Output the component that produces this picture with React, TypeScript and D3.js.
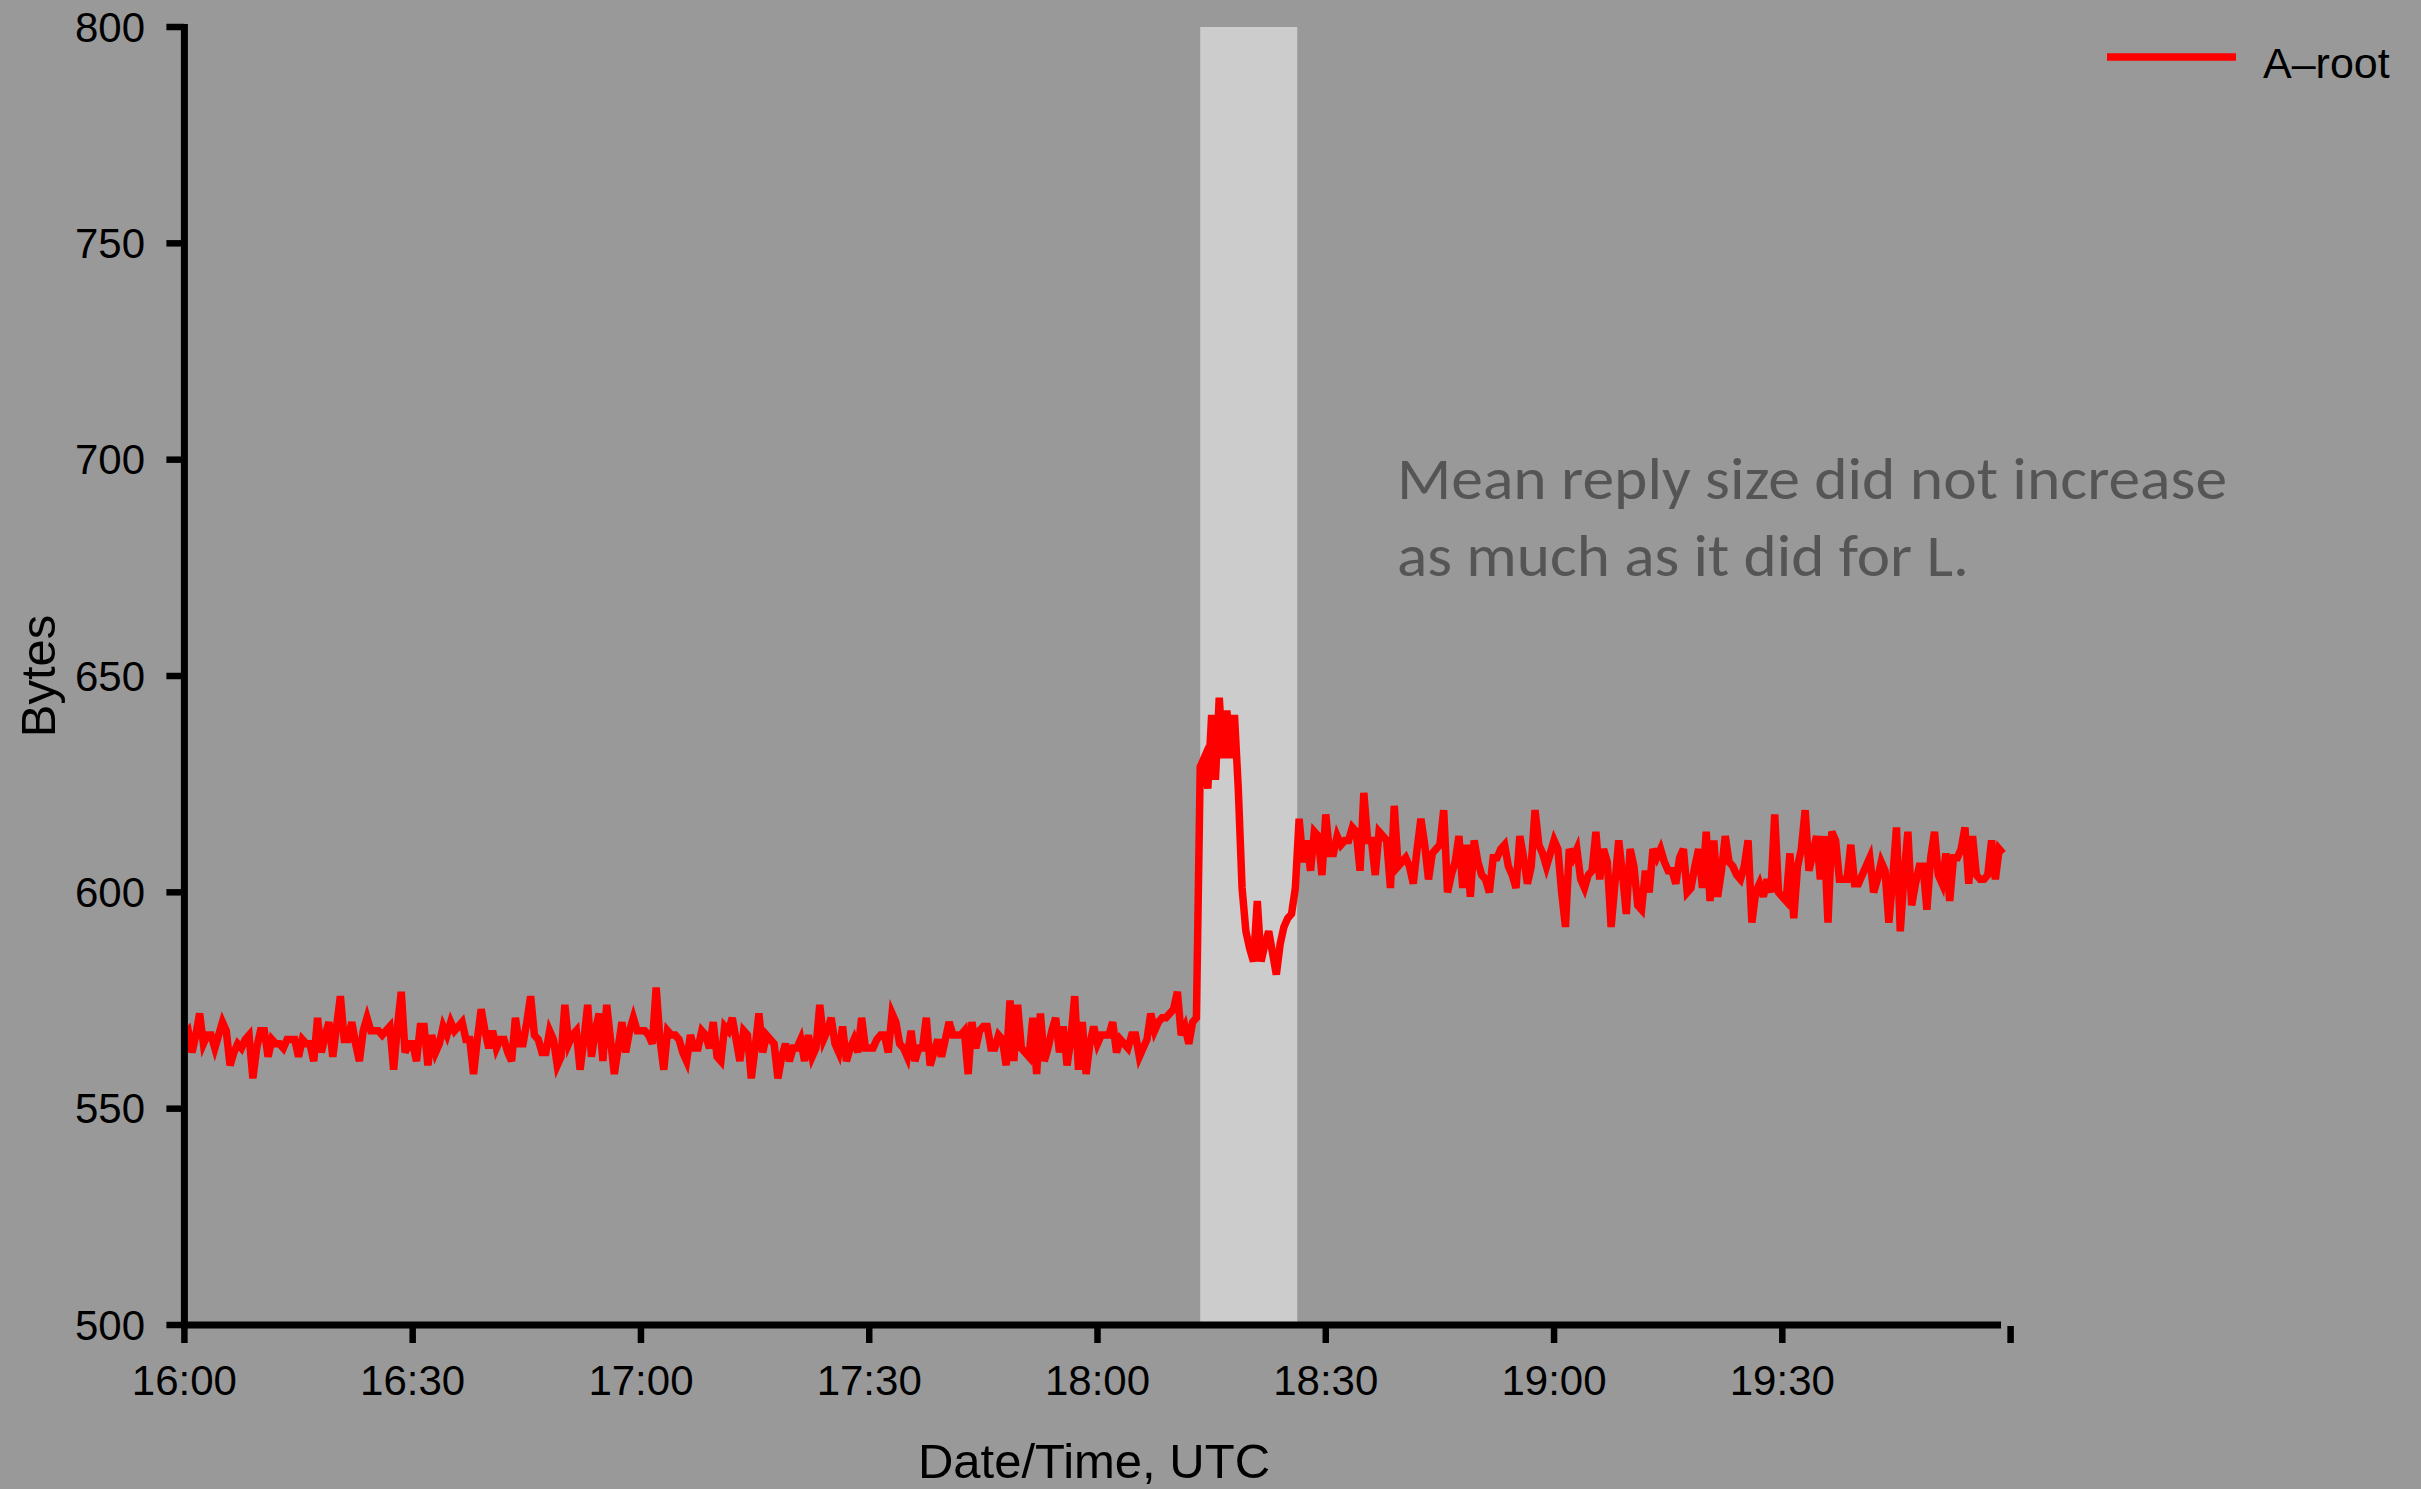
import React from 'react';
import * as d3 from 'd3';

const WIDTH = 2421;
const HEIGHT = 1489;

// Mean DNS reply size (bytes), one sample every 30 seconds starting 16:00 UTC
const seriesName = 'A\u2013root';
const sampleStart = '16:00:00';
const sampleStepSeconds = 30;

const bytes1600 = [
  567, 568, 563, 567, 572, 565, 567, 567, 564, 567,
  570, 568, 560, 563, 565, 564, 566, 567, 557, 564,
  568, 568, 562, 566, 565, 565, 564, 566, 566, 566,
  562, 566, 565, 565, 561, 571, 563, 567, 570, 562,
  569, 576, 566, 566, 570, 565, 561, 568, 571, 568,
  568, 568, 567, 568, 569, 559, 569, 577, 563, 565,
];
const bytes1630 = [
  565, 561, 569, 569, 560, 567, 563, 565, 569, 567,
  570, 568, 569, 570, 566, 566, 558, 566, 573, 568,
  564, 568, 564, 566, 566, 563, 561, 571, 565, 565,
  570, 576, 567, 566, 563, 563, 568, 566, 560, 562,
  574, 565, 567, 568, 559, 566, 574, 562, 568, 572,
  561, 574, 566, 558, 564, 570, 563, 568, 571, 568,
];
const bytes1700 = [
  568, 568, 567, 565, 578, 566, 559, 568, 567, 567,
  566, 563, 561, 567, 564, 564, 568, 567, 564, 570,
  562, 561, 569, 568, 571, 566, 561, 568, 567, 557,
  564, 572, 563, 567, 566, 565, 557, 562, 565, 561,
  564, 564, 566, 561, 567, 562, 564, 574, 566, 568,
  571, 565, 563, 569, 561, 564, 566, 563, 571, 564,
];
const bytes1730 = [
  564, 564, 566, 567, 567, 563, 572, 570, 565, 564,
  562, 568, 561, 564, 564, 571, 560, 563, 566, 562,
  566, 570, 567, 567, 567, 568, 558, 570, 564, 568,
  569, 569, 564, 564, 567, 566, 560, 575, 561, 574,
  564, 563, 562, 571, 558, 572, 561, 564, 568, 571,
  563, 569, 560, 566, 576, 559, 570, 558, 565, 569,
];
const bytes1800 = [
  565, 567, 567, 567, 570, 563, 566, 565, 564, 567,
  567, 562, 564, 566, 572, 568, 570, 571, 571, 572,
  573, 577, 567, 569, 565, 570, 571, 629, 631, 624,
  641, 626, 645, 631, 642, 631, 641, 624, 601, 591,
  587, 584, 598, 584, 588, 591, 586, 581, 588, 592,
  594, 595, 601, 617, 607, 612, 605, 614, 613, 604,
];
const bytes1830 = [
  618, 609, 609, 613, 611, 612, 612, 615, 614, 605,
  623, 612, 612, 604, 614, 613, 612, 601, 620, 606,
  607, 608, 606, 602, 610, 617, 611, 603, 609, 610,
  611, 619, 600, 604, 607, 613, 601, 611, 599, 612,
  607, 604, 603, 600, 608, 608, 610, 611, 606, 604,
  601, 613, 608, 602, 606, 619, 611, 609, 606, 609,
];
const bytes1900 = [
  612, 610, 600, 592, 610, 608, 610, 603, 601, 604,
  605, 614, 603, 610, 607, 592, 602, 612, 604, 595,
  610, 606, 597, 596, 605, 600, 610, 608, 610, 607,
  605, 605, 602, 608, 610, 600, 601, 606, 610, 601,
  614, 598, 612, 599, 605, 613, 607, 606, 604, 603,
  606, 612, 593, 600, 602, 599, 603, 600, 618, 600,
];
const bytes1930 = [
  599, 598, 609, 594, 606, 610, 619, 605, 609, 613,
  603, 613, 593, 614, 612, 603, 603, 603, 611, 602,
  602, 604, 606, 608, 600, 603, 607, 605, 593, 603,
  615, 591, 604, 614, 597, 602, 606, 606, 596, 608,
  614, 604, 602, 609, 598, 608, 608, 610, 615, 602,
  613, 604, 603, 603, 604, 612, 603, 610, 609,
];

const meanReplyBytes = [
  ...bytes1600, ...bytes1630, ...bytes1700, ...bytes1730,
  ...bytes1800, ...bytes1830, ...bytes1900, ...bytes1930,
];

const yTicks = [500, 550, 600, 650, 700, 750, 800];
const xTicks = ['16:00', '16:30', '17:00', '17:30', '18:00', '18:30', '19:00', '19:30', '20:00'];
const xTickLabels = ['16:00', '16:30', '17:00', '17:30', '18:00', '18:30', '19:00', '19:30', ''];
const xDomain = ['16:00', '20:00'];
const eventWindow = ['18:13:30', '18:26:15'];

const noteLines = ['Mean reply size did not increase', 'as much as it did for L.'];
const xTitle = 'Date/Time, UTC';
const yTitle = 'Bytes';

const parseClock = (s: string) => {
  const [h, m, sec] = s.split(':').map(Number);
  return new Date(Date.UTC(2000, 0, 1, h, m, sec || 0));
};

const t0 = parseClock(sampleStart).getTime();
const samples = meanReplyBytes.map((v, i) => ({
  time: new Date(t0 + i * sampleStepSeconds * 1000),
  value: v,
}));

const PLOT = { left: 184.4, right: 2010.6, top: 27, bottom: 1325 };
const AXIS_FONT = "'Liberation Sans', Arial, Helvetica, sans-serif";

export default function App() {
  const x = d3
    .scaleUtc()
    .domain(xDomain.map(parseClock))
    .range([PLOT.left, PLOT.right]);
  const y = d3.scaleLinear().domain([500, 800]).range([PLOT.bottom, PLOT.top]);

  const line = d3
    .line<{ time: Date; value: number }>()
    .x((d) => x(d.time))
    .y((d) => y(d.value));

  const bandX0 = x(parseClock(eventWindow[0]));
  const bandX1 = x(parseClock(eventWindow[1]));

  return (
    <svg
      width={WIDTH}
      height={HEIGHT}
      style={{ position: 'absolute', left: 0, top: 0, display: 'block' }}
    >
      <rect x={0} y={0} width={WIDTH} height={HEIGHT} fill="#999999" />

      {/* event window */}
      <rect
        x={bandX0}
        y={y(800)}
        width={bandX1 - bandX0}
        height={y(500) - y(800)}
        fill="#cccccc"
      />

      {/* series */}
      <path
        d={line(samples) || ''}
        fill="none"
        stroke="#ff0000"
        strokeWidth={7.5}
        strokeLinejoin="miter"
        strokeMiterlimit={4}
      />

      {/* y axis */}
      <g fontFamily={AXIS_FONT} fontSize={42} fill="#000">
        <line x1={PLOT.left} x2={PLOT.left} y1={y(800) - 3} y2={y(500) + 3.5} stroke="#000" strokeWidth={7} />
        {yTicks.map((t) => (
          <g key={t}>
            <line x1={PLOT.left - 18} x2={PLOT.left} y1={y(t)} y2={y(t)} stroke="#000" strokeWidth={6.5} />
            <text x={145} y={y(t)} textAnchor="end" dominantBaseline="central">
              {t}
            </text>
          </g>
        ))}
      </g>

      {/* x axis */}
      <g fontFamily={AXIS_FONT} fontSize={42} fill="#000">
        <line x1={PLOT.left - 3} x2={2001} y1={y(500)} y2={y(500)} stroke="#000" strokeWidth={7} />
        {xTicks.map((t, i) => {
          const tx = x(parseClock(t));
          return (
            <g key={t}>
              <line x1={tx} x2={tx} y1={y(500) + 1} y2={y(500) + 18} stroke="#000" strokeWidth={6.5} />
              {xTickLabels[i] && (
                <text x={tx} y={1395} textAnchor="middle">
                  {xTickLabels[i]}
                </text>
              )}
            </g>
          );
        })}
      </g>

      {/* axis titles */}
      <text
        x={1094}
        y={1478}
        textAnchor="middle"
        fontFamily={AXIS_FONT}
        fontSize={49}
        fill="#000"
      >
        {xTitle}
      </text>
      <text
        transform="translate(55,676) rotate(-90)"
        textAnchor="middle"
        fontFamily={AXIS_FONT}
        fontSize={49}
        fill="#000"
      >
        {yTitle}
      </text>

      {/* legend */}
      <line x1={2107} x2={2236} y1={57} y2={57} stroke="#ff0000" strokeWidth={7.5} />
      <text x={2263} y={78} fontFamily={AXIS_FONT} fontSize={43} fill="#000">
        {seriesName}
      </text>

      {/* annotation */}
      <g fontFamily="Carlito, Lato, 'Open Sans', sans-serif" fontSize={60} fill="#555555">
        <text x={1397} y={499} textLength={830} lengthAdjust="spacingAndGlyphs">
          {noteLines[0]}
        </text>
        <text x={1397} y={576} textLength={572} lengthAdjust="spacingAndGlyphs">
          {noteLines[1]}
        </text>
      </g>
    </svg>
  );
}
